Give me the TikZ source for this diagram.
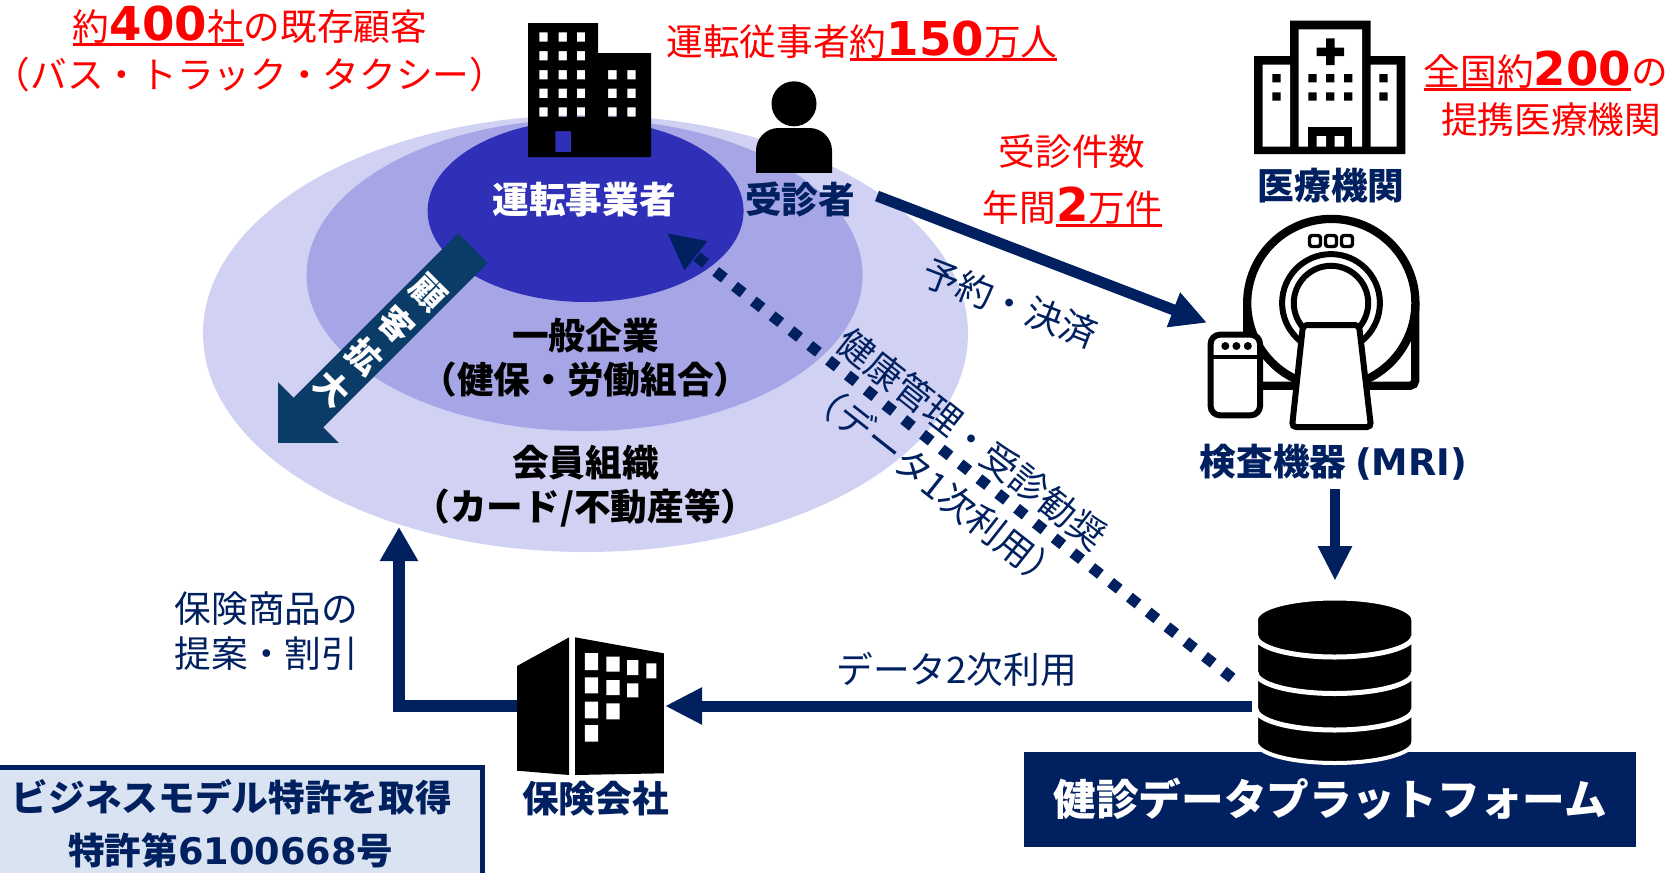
\documentclass[tikz,border=0pt]{standalone}
\usepackage{fontspec}
\setmainfont{Noto Sans CJK JP}
\newfontfamily\numfont{DejaVu Sans}
\usetikzlibrary{arrows.meta}

\definecolor{navy}{RGB}{0,32,96}
\definecolor{ringin}{RGB}{47,47,183}
\definecolor{ringmid}{RGB}{166,166,230}
\definecolor{ringout}{RGB}{209,209,243}
\definecolor{growth}{RGB}{11,60,104}
\definecolor{patentbg}{RGB}{218,227,241}

% large bold figures inside the red notes
\newcommand\bignum[1]{{\numfont\bfseries\fontsize{35}{40}\selectfont #1}}
% underline a part of a note with a rule in the current colour
\newcommand\ulpart[1]{\sbox0{#1}\rlap{\rule[-4.5pt]{\wd0}{2pt}}\usebox0}

\begin{document}
\begin{tikzpicture}[x=0.75pt,y=-0.75pt,
  lbl/.style={inner sep=0pt, outer sep=0pt},
  redtxt/.style={lbl, anchor=base, text=red, font=\fontsize{27.5}{33}\selectfont},
  boldlbl/.style={lbl, anchor=base, font=\bfseries\fontsize{27.5}{33}\selectfont},
  navybold/.style={boldlbl, text=navy},
  navyreg/.style={lbl, text=navy, font=\fontsize{27.5}{33}\selectfont},
  flow/.style={draw=navy, line width=8.25pt},
]
\useasboundingbox (0,0) rectangle (1675,872);

% ---------- customer rings ----------
\fill[ringout] (585.5,333.5) ellipse [x radius=382.5, y radius=218.5];
\fill[ringmid] (584.6,275) ellipse [x radius=278, y radius=156];
\fill[ringin] (585.6,211) ellipse [x radius=158, y radius=91];

% customer growth arrow
\fill[growth] (458.15,233.15) -- (487.85,262.85) -- (323.25,427.45) -- (338.7,442.9)
  -- (278.1,442.9) -- (278.1,382.3) -- (293.55,397.75) -- cycle;
\node[lbl, text=white, font=\bfseries\fontsize{25.5}{34}\selectfont, align=center, rotate=-45]
  (growthtxt) at (380,341) {顧\\客\\拡\\大};

% ring labels
\node[boldlbl, text=white] (operators) at (584,213) {運転事業者};
\node[boldlbl] (firms) at (585.6,349) {一般企業};
\node[boldlbl] (firmsub) at (585.6,393) {（健保・労働組合）};
\node[boldlbl] (members) at (585.6,476) {会員組織};
\node[boldlbl] (membersub) at (585.6,520.7) {（カード/不動産等）};

% ---------- health management (dotted) ----------
\coordinate (careFrom) at (1232,678);
\coordinate (careTo) at (667,233);
\draw[navy, line width=8.25pt, dash pattern=on 8.25pt off 9.7pt,
  -{Triangle[length=27.5pt,width=25.7pt]}] (careFrom) -- (careTo);
\node[navyreg, rotate=-38.3] (carelbl1) at (972,438.7) {健康管理・受診勧奨};
\node[navyreg, rotate=-38.3] (carelbl2) at (935.5,485) {（データ1次利用）};

% ---------- transport operator building ----------
\fill[even odd rule] (528,23) -- (598,23) -- (598,53) -- (651,53) -- (651,157) -- (528,157) -- cycle
  foreach \wx in {539.3,558.5,576.8} {foreach \wy in {32.3,51,70,88.7,107.3} {(\wx,\wy) rectangle ++(8.4,9.3)}}
  foreach \wx in {608.2,627.3} {foreach \wy in {70,88.7,107.3} {(\wx,\wy) rectangle ++(8.4,9.3)}}
  (555.4,131) rectangle (571,152);

% ---------- examinee ----------
\fill (794,103.8) circle [radius=22.5];
\begin{scope}
  \clip (740,128) rectangle (850,172);
  \fill[rounded corners=17pt] (756,128) rectangle (832,210);
\end{scope}
\node[navybold] (patient) at (800,213) {受診者};

% ---------- red notes ----------
\node[redtxt] (fleet1) at (250,40) {\ulpart{約\bignum{400}社}の既存顧客};
\node[redtxt] (fleet2) at (250,88) {（バス・トラック・タクシー）};
\node[redtxt] (drivers) at (862,55) {運転従事者\ulpart{約\bignum{150}万人}};
\node[redtxt] (visits1) at (1072,165) {受診件数};
\node[redtxt] (visits2) at (1072.5,221) {年間\ulpart{\bignum{2}万件}};
\node[redtxt] (partners1) at (1546,85) {\ulpart{全国約\bignum{200}}の};
\node[redtxt] (partners2) at (1551,133) {提携医療機関};

% ---------- hospital ----------
\fill (1254,154) -- (1254,56) -- (1290,56) -- (1290,20.7) -- (1370.7,20.7) -- (1370.7,56)
  -- (1405.3,56) -- (1405.3,154) -- cycle;
\fill[white] (1262.7,64.7) rectangle (1290,146.7) (1298.7,29.3) rectangle (1362,146.7)
  (1370.7,64.7) rectangle (1396.7,146.7);
\fill (1316.7,47.7) rectangle (1344,56) (1326,38.3) rectangle (1334.7,65);
\fill foreach \hx in {1272.3,1308.3,1326,1344,1379.3} {foreach \hy in {74,92.3} {(\hx,\hy) rectangle ++(8.4,8.4)}};
\fill (1308.3,126.7) rectangle (1352.3,146.7);
\fill[white] (1316.7,136) rectangle (1326,146.7) (1334.7,136) rectangle (1344,146.7);
\node[navybold] (hospital) at (1331,199) {医療機関};

% ---------- MRI scanner ----------
\filldraw[fill=white, line width=6.2pt, rounded corners=4pt] (1247.2,303) -- (1247.2,385.8)
  -- (1415.3,385.8) -- (1415.3,303);
\filldraw[fill=white, line width=6.2pt] (1331.3,303) circle [radius=84.1];
\foreach \sx in {1315,1331,1347}
  \draw[line width=2.6pt, rounded corners=2pt] (\sx-5.5,235.5) rectangle (\sx+5.5,246.5);
\filldraw[fill=white, line width=4.5pt] (1331,303) circle [radius=48.9];
\draw[line width=4.5pt] (1331,303) circle [radius=37.2];
\filldraw[fill=white, line width=4.5pt, rounded corners=3pt] (1303,325) -- (1359,325)
  -- (1371,427) -- (1292,427) -- cycle;
\filldraw[fill=white, line width=4.5pt, rounded corners=7pt] (1210.6,334.7) rectangle (1260,415.3);
\draw[line width=3pt] (1210.6,356.7) -- (1260,356.7);
\fill (1225.3,346) circle [radius=4] (1236.4,346) circle [radius=4] (1247.8,346) circle [radius=4];
\node[navybold] (scanner) at (1333.4,475.7) {検査機器 {\numfont (MRI)}};

% reservation and payment
\coordinate (rsvFrom) at (877,196);
\coordinate (rsvTo) at (1207,322.7);
\draw[flow, -{Triangle[length=27pt,width=26pt]}] (rsvFrom) -- (rsvTo);
\node[navyreg, rotate=-21] (rsvlbl) at (1010,303) {予約・決済};

% scanner to data store
\coordinate (scanFrom) at (1335,489);
\coordinate (scanTo) at (1335,580.7);
\draw[flow, line width=8pt, -{Triangle[length=26pt,width=24pt]}] (scanFrom) -- (scanTo);

% ---------- data platform ----------
\node[lbl, fill=navy, text=white, font=\bfseries\fontsize{32}{38}\selectfont,
  minimum width=458.5pt, minimum height=71.25pt] (platform) at (1330.15,799.2) {健診データプラットフォーム};

\filldraw[fill=black, draw=white, line width=3pt] (1256.1,619.5) -- (1256.1,742)
  arc [start angle=180, end angle=0, x radius=78.6, y radius=21] -- (1413.3,619.5)
  arc [start angle=0, end angle=-180, x radius=78.6, y radius=21] -- cycle;
\foreach \gy in {636,672.5,709}
  \draw[white, line width=3.75pt] (1256.1,\gy) arc [start angle=180, end angle=0, x radius=78.6, y radius=21];

% secondary use
\coordinate (useFrom) at (1252,706);
\coordinate (useTo) at (665,706);
\draw[flow, -{Triangle[length=27.75pt,width=26pt]}] (useFrom) -- (useTo);
\node[navyreg, anchor=base] (uselbl) at (956.7,683) {データ2次利用};

% ---------- insurer ----------
\fill (517,666) -- (569.2,637.3) -- (569.2,775) -- (517,770.7) -- cycle;
\fill (575,637.3) -- (663.8,653.3) -- (663.8,773.3) -- (575,775) -- cycle;
\fill[white] (584.8,653) rectangle (598.2,670) (606.3,656.7) rectangle (619.6,671.7)
  (627.2,660) rectangle (638.4,675) (646.4,663.3) rectangle (656.3,678.3)
  (584.8,677.3) rectangle (598.2,693.3) (606.3,680) rectangle (619.6,695)
  (627.2,683.3) rectangle (638.4,697.3)
  (584.8,701.7) rectangle (598.2,718.3) (606.3,703.3) rectangle (619.6,719.3)
  (584.8,725) rectangle (598.2,741.7);
\node[navybold] (insurer) at (595.5,812) {保険会社};

% insurance offers
\coordinate (offerFrom) at (517,705.5);
\coordinate (offerTo) at (399,527);
\draw[flow, line width=9pt, -{Triangle[length=25.5pt,width=27pt]}] (offerFrom) -| (offerTo);
\node[navyreg, anchor=base] (offer1) at (266.6,622) {保険商品の};
\node[navyreg, anchor=base] (offer2) at (266.6,667) {提案・割引};

% ---------- patent ----------
\filldraw[fill=patentbg, draw=navy, line width=3.75pt] (-10,767.5) rectangle (482.5,890);
\node[navybold] (patent1) at (231.7,811) {ビジネスモデル特許を取得};
\node[navybold] (patent2) at (230.8,864) {特許第{\numfont 6100668}号};
\end{tikzpicture}
\end{document}
